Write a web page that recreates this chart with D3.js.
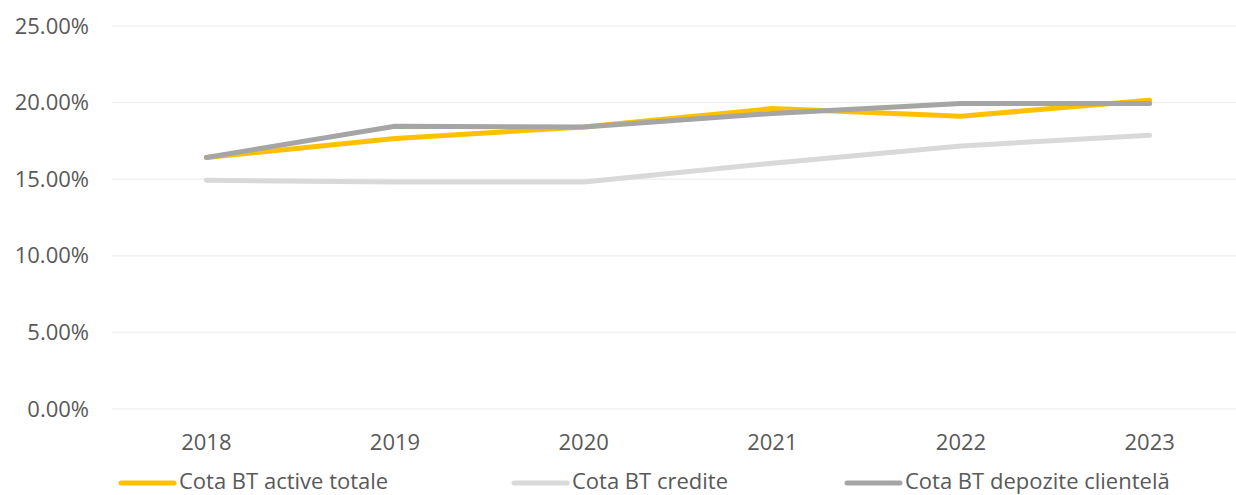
<!DOCTYPE html>
<html>
<head>
<meta charset="utf-8">
<script src="https://cdn.jsdelivr.net/npm/d3@7"></script>
<style>
  body { margin: 0; background: #fff; }
  svg text { font-family: "Open Sans", sans-serif; fill: #595959; }
</style>
</head>
<body>
<div id="chart"></div>
<script>
var years = ["2018", "2019", "2020", "2021", "2022", "2023"];
var activeTotale = [16.42, 17.66, 18.41, 19.61, 19.11, 20.16];
var credite = [14.93, 14.82, 14.82, 16.04, 17.17, 17.87];
var depozite = [16.42, 18.46, 18.41, 19.29, 19.94, 19.94];
var yTicks = [0, 5, 10, 15, 20, 25];

var series = [
  { name: "Cota BT active totale", values: activeTotale, color: "#FFC000" },
  { name: "Cota BT credite", values: credite, color: "#D9D9D9" },
  { name: "Cota BT depozite clientelă", values: depozite, color: "#A5A5A5" }
];

var svgWidth = 1236;
var svgHeight = 495;

var svg = d3.select("#chart")
  .append("svg")
  .attr("width", svgWidth)
  .attr("height", svgHeight);

// x as band scale so points sit in the middle of each category
var x = d3.scaleBand().domain(years).range([112, 1244]);
var y = d3.scaleLinear().domain([0, 25]).range([409, 26]);

// gridlines
svg.append("g")
  .selectAll("line")
  .data(yTicks)
  .enter()
  .append("line")
  .attr("x1", 112)
  .attr("x2", svgWidth)
  .attr("y1", d => y(d))
  .attr("y2", d => y(d))
  .attr("stroke", "#F0F0F0")
  .attr("stroke-width", 1.5);

// y axis labels
var leftAxis = d3.axisLeft(y).tickValues(yTicks).tickSize(0).tickPadding(0)
  .tickFormat(d => d.toFixed(2) + "%");
var gy = svg.append("g")
  .attr("transform", "translate(89,0)")
  .call(leftAxis);
gy.select(".domain").remove();
gy.selectAll("text").style("font-size", "22px").attr("fill", "#595959");

// x axis labels
var bottomAxis = d3.axisBottom(x).tickSize(0).tickPadding(0);
var gx = svg.append("g")
  .attr("transform", "translate(0,434)")
  .call(bottomAxis);
gx.select(".domain").remove();
gx.selectAll("text").style("font-size", "22px").attr("fill", "#595959");

// lines
var line = d3.line()
  .x((d, i) => x(years[i]) + x.bandwidth() / 2)
  .y(d => y(d));

svg.append("g")
  .selectAll("path")
  .data(series)
  .enter()
  .append("path")
  .attr("d", d => line(d.values))
  .attr("fill", "none")
  .attr("stroke", d => d.color)
  .attr("stroke-width", 5)
  .attr("stroke-linecap", "round")
  .attr("stroke-linejoin", "round");

// legend
var legendX = [121, 514, 847];
var legend = svg.append("g")
  .selectAll("g")
  .data(series)
  .enter()
  .append("g")
  .attr("transform", (d, i) => `translate(${legendX[i]}, 483)`);

legend.append("line")
  .attr("x1", 0)
  .attr("x2", 53)
  .attr("stroke", d => d.color)
  .attr("stroke-width", 5)
  .attr("stroke-linecap", "round");

legend.append("text")
  .attr("x", 58)
  .attr("y", 6)
  .style("font-size", "22px")
  .text(d => d.name);
</script>
</body>
</html>
